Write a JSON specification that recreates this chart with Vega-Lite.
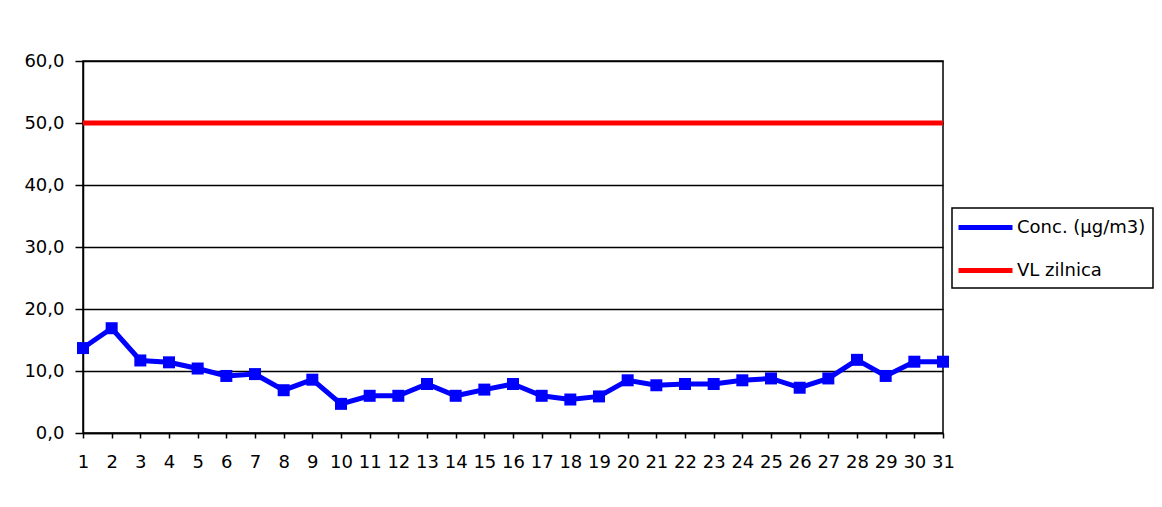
{
  "$schema": "https://vega.github.io/schema/vega-lite/v6.json",
  "width": 860,
  "height": 372,
  "autosize": {"type": "none"},
  "padding": {"left": 83, "top": 61, "right": 219, "bottom": 74},
  "background": "#ffffff",
  "config": {
    "font": "DejaVu Sans",
    "view": {"stroke": "#000000", "strokeWidth": 1.5},
    "axis": {"labelFont": "DejaVu Sans", "labelFontSize": 18, "labelColor": "#000000", "domainColor": "#000000", "tickColor": "#000000", "titleFontSize": 18}
  },
  "data": {
    "values": [
      {"day": 1, "conc": 13.7, "vl": 50},
      {"day": 2, "conc": 16.9, "vl": 50},
      {"day": 3, "conc": 11.7, "vl": 50},
      {"day": 4, "conc": 11.4, "vl": 50},
      {"day": 5, "conc": 10.4, "vl": 50},
      {"day": 6, "conc": 9.2, "vl": 50},
      {"day": 7, "conc": 9.5, "vl": 50},
      {"day": 8, "conc": 6.9, "vl": 50},
      {"day": 9, "conc": 8.6, "vl": 50},
      {"day": 10, "conc": 4.7, "vl": 50},
      {"day": 11, "conc": 6.0, "vl": 50},
      {"day": 12, "conc": 6.0, "vl": 50},
      {"day": 13, "conc": 7.9, "vl": 50},
      {"day": 14, "conc": 6.0, "vl": 50},
      {"day": 15, "conc": 7.0, "vl": 50},
      {"day": 16, "conc": 7.9, "vl": 50},
      {"day": 17, "conc": 6.0, "vl": 50},
      {"day": 18, "conc": 5.4, "vl": 50},
      {"day": 19, "conc": 5.9, "vl": 50},
      {"day": 20, "conc": 8.5, "vl": 50},
      {"day": 21, "conc": 7.7, "vl": 50},
      {"day": 22, "conc": 7.9, "vl": 50},
      {"day": 23, "conc": 7.9, "vl": 50},
      {"day": 24, "conc": 8.5, "vl": 50},
      {"day": 25, "conc": 8.8, "vl": 50},
      {"day": 26, "conc": 7.3, "vl": 50},
      {"day": 27, "conc": 8.8, "vl": 50},
      {"day": 28, "conc": 11.8, "vl": 50},
      {"day": 29, "conc": 9.2, "vl": 50},
      {"day": 30, "conc": 11.5, "vl": 50},
      {"day": 31, "conc": 11.5, "vl": 50}
    ]
  },
  "transform": [
    {"fold": ["conc", "vl"], "as": ["series", "value"]}
  ],
  "encoding": {
    "x": {
      "field": "day",
      "type": "quantitative",
      "scale": {"domain": [1, 31], "nice": false, "zero": false},
      "axis": {
        "title": null,
        "values": [1,2,3,4,5,6,7,8,9,10,11,12,13,14,15,16,17,18,19,20,21,22,23,24,25,26,27,28,29,30,31],
        "format": "d",
        "grid": false,
        "tickSize": 5,
        "tickWidth": 1.5,
        "domainWidth": 1.5,
        "labelPadding": 15,
        "labelOverlap": false,
        "labelFlush": false
      }
    },
    "y": {
      "field": "value",
      "type": "quantitative",
      "scale": {"domain": [0, 60], "nice": false},
      "axis": {
        "title": null,
        "values": [0, 10, 20, 30, 40, 50, 60],
        "labelExpr": "replace(format(datum.value, '.1f'), '.', ',')",
        "grid": true,
        "gridColor": "#000000",
        "gridOpacity": 1,
        "gridWidth": 1.5,
        "tickSize": 8,
        "tickWidth": 1.5,
        "domainWidth": 1.5,
        "labelPadding": 11
      }
    }
  },
  "layer": [
    {
      "mark": {"type": "line", "strokeWidth": 5, "strokeJoin": "miter"},
      "encoding": {
        "color": {
          "field": "series",
          "type": "nominal",
          "scale": {"domain": ["conc", "vl"], "range": ["#0000FF", "#FF0000"]},
          "legend": {
            "title": null,
            "orient": "none",
            "legendX": 869,
            "legendY": 147,
            "direction": "vertical",
            "strokeColor": "#000000",
            "fillColor": "#ffffff",
            "padding": 7,
            "rowPadding": 20,
            "symbolType": "M-2.7,0H2.7",
            "symbolSize": 400,
            "symbolOffset": 14,
            "symbolStrokeWidth": 5,
            "labelFont": "DejaVu Sans",
            "labelFontSize": 18,
            "labelColor": "#000000",
            "labelOffset": 19,
            "labelExpr": "datum.label == 'conc' ? 'Conc. (µg/m3)' : 'VL zilnica'",
            "encode": {"legend": {"update": {"strokeWidth": {"value": 1.5}}}}
          }
        }
      }
    },
    {
      "transform": [{"filter": "datum.series == 'conc'"}],
      "mark": {"type": "point", "shape": "square", "filled": true, "size": 144, "color": "#0000FF", "opacity": 1},
      "encoding": {}
    }
  ]
}
